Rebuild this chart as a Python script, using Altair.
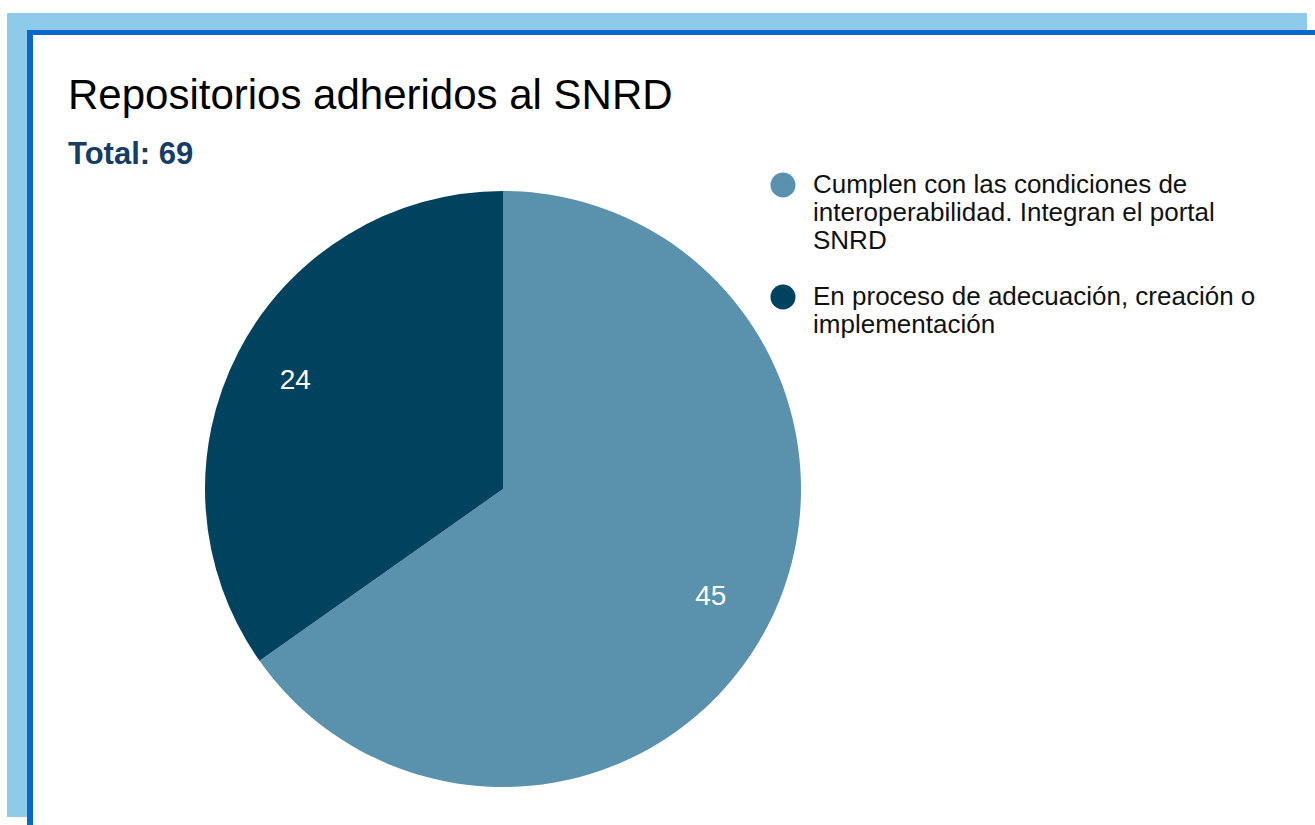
import altair as alt
import pandas as pd

categories = [
    "Cumplen con las condiciones de|interoperabilidad. Integran el portal|SNRD",
    "En proceso de adecuación, creación o|implementación",
]
values = [45, 24]
colors = ["#5a92ae", "#01425e"]

title_text = "Repositorios adheridos al SNRD"
subtitle_text = "Total: 69"

FONT = "Liberation Sans"
P_TOP = 180
W, H = 1315, 825 - P_TOP
CX, CY = 503, 489 - P_TOP

df = pd.DataFrame({"category": categories, "value": values})
one = alt.Data(values=[{"k": 1}])

bg_light = alt.Chart(one).mark_rect(color="#8ecbeb").encode(
    x=alt.value(7), x2=alt.value(1307), y=alt.value(13 - P_TOP), y2=alt.value(817 - P_TOP)
)
bg_blue = alt.Chart(one).mark_rect(color="#0a68c8").encode(
    x=alt.value(27), x2=alt.value(1315), y=alt.value(30 - P_TOP), y2=alt.value(825 - P_TOP)
)
bg_white = alt.Chart(one).mark_rect(color="#ffffff").encode(
    x=alt.value(33), x2=alt.value(1315), y=alt.value(35 - P_TOP), y2=alt.value(825 - P_TOP)
)

base = alt.Chart(df)

pie = base.mark_arc(outerRadius=298).encode(
    theta=alt.Theta("value:Q", stack=True),
    color=alt.Color(
        "category:N",
        scale=alt.Scale(domain=categories, range=colors),
        sort=categories,
        legend=alt.Legend(
            title=None,
            orient="none",
            legendX=770,
            legendY=172 - P_TOP,
            symbolType="circle",
            symbolSize=625,
            symbolStrokeWidth=0,
            symbolOpacity=1,
            labelFont=FONT,
            labelFontSize=26,
            labelColor="#111111",
            labelLimit=600,
            labelOffset=17,
            labelBaseline="middle",
            labelExpr="split(datum.label, '|')",
            rowPadding=30,
            padding=0,
        ),
    ),
    order=alt.Order("category:N", sort="ascending"),
    x=alt.value(CX),
    y=alt.value(CY),
)

labels = base.mark_text(radius=234, fontSize=28, font=FONT, color="white").encode(
    theta=alt.Theta("value:Q", stack=True),
    detail="category:N",
    order=alt.Order("category:N", sort="ascending"),
    text="value:Q",
    x=alt.value(CX),
    y=alt.value(CY),
)

chart = alt.layer(bg_light, bg_blue, bg_white, pie, labels).properties(
    width=W,
    height=H,
    autosize=alt.AutoSizeParams(type="none"),
    padding={"left": 0, "top": P_TOP, "right": 0, "bottom": 0},
    background="white",
    title=alt.TitleParams(
        text=title_text,
        subtitle=subtitle_text,
        anchor="start",
        frame="group",
        dx=68,
        offset=-158,
        font=FONT,
        fontSize=42,
        fontWeight="normal",
        color="#000000",
        subtitleFont=FONT,
        subtitleFontSize=31,
        subtitleFontWeight="bold",
        subtitleColor="#153d66",
        subtitlePadding=22,
    ),
).configure_view(strokeWidth=0, fill=None)

chart.save("out.html", embed_options={"renderer": "svg", "actions": False})
